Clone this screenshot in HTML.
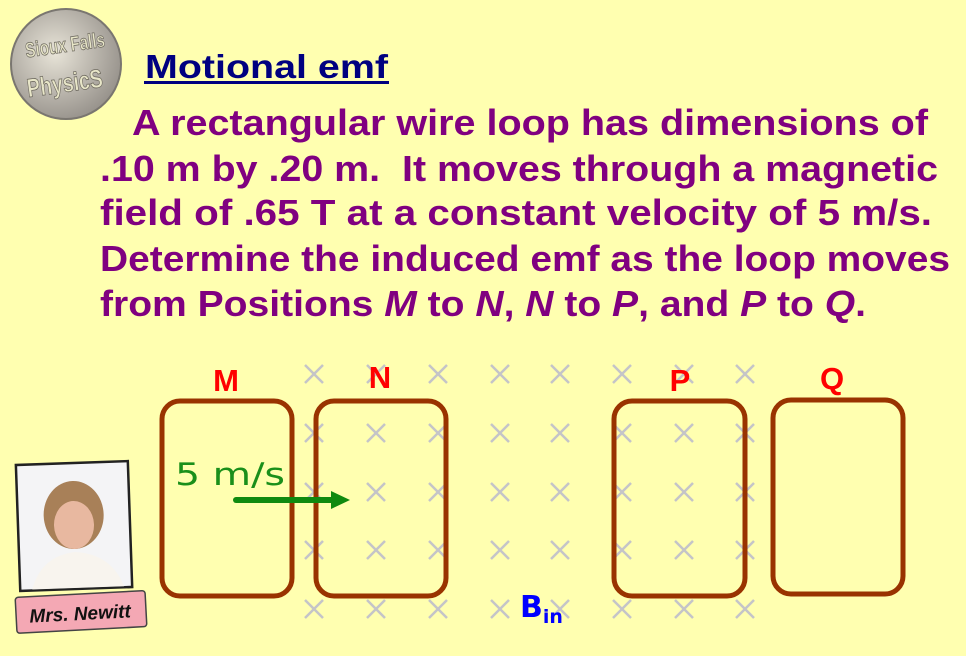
<!DOCTYPE html>
<html><head><meta charset="utf-8"><style>
html,body{margin:0;padding:0;background:#FFFFB0;}
svg{display:block}
</style></head><body>
<svg width="966" height="656" viewBox="0 0 966 656" xmlns="http://www.w3.org/2000/svg" xmlns:xlink="http://www.w3.org/1999/xlink">
<defs>
<radialGradient id="lg" cx="0.4" cy="0.4" r="0.7">
<stop offset="0" stop-color="#e8e4d8"/><stop offset="1" stop-color="#8f8a84"/>
</radialGradient>
<g id="x" stroke="#c4c4c8" stroke-width="2.5"><line x1="-9" y1="-9" x2="9" y2="9"/><line x1="9" y1="-9" x2="-9" y2="9"/></g>
<g id="col"><use xlink:href="#x" y="374"/><use xlink:href="#x" y="433"/><use xlink:href="#x" y="492"/><use xlink:href="#x" y="550"/><use xlink:href="#x" y="609"/></g>
</defs>
<rect width="966" height="656" fill="#FFFFB0"/>
<circle cx="66" cy="64" r="55" fill="url(#lg)" stroke="#7a7670" stroke-width="2"/>
<text x="66" y="52" font-family="Liberation Sans, sans-serif" font-weight="bold" font-size="21" fill="#e8e6c8" stroke="#6e6a60" stroke-width="0.8" text-anchor="middle" transform="rotate(-8 66 52)" textLength="80" lengthAdjust="spacingAndGlyphs">Sioux Falls</text>
<text x="66" y="92" font-family="Liberation Sans, sans-serif" font-weight="bold" font-size="26" fill="#e8e6c8" stroke="#6e6a60" stroke-width="0.8" text-anchor="middle" transform="rotate(-8 66 92)" textLength="76" lengthAdjust="spacingAndGlyphs">PhysicS</text>
<text x="145" y="78" font-family="Liberation Sans, sans-serif" font-weight="bold" font-size="33" fill="#000080" textLength="243" lengthAdjust="spacingAndGlyphs">Motional emf</text>
<rect x="144" y="81" width="245" height="3" fill="#000080"/>
<g font-family="Liberation Sans, sans-serif" font-weight="bold" font-size="36" fill="#800080">
<text x="132" y="135" textLength="796" lengthAdjust="spacingAndGlyphs">A rectangular wire loop has dimensions of</text>
<text x="100" y="181" textLength="838" lengthAdjust="spacingAndGlyphs" xml:space="preserve">.10 m by .20 m.  It moves through a magnetic</text>
<text x="100" y="225" textLength="832" lengthAdjust="spacingAndGlyphs">field of .65 T at a constant velocity of 5 m/s.</text>
<text x="100" y="271" textLength="850" lengthAdjust="spacingAndGlyphs">Determine the induced emf as the loop moves</text>
<text x="100" y="316" textLength="766" lengthAdjust="spacingAndGlyphs">from Positions <tspan font-style="italic">M</tspan> to <tspan font-style="italic">N</tspan>, <tspan font-style="italic">N</tspan> to <tspan font-style="italic">P</tspan>, and <tspan font-style="italic">P</tspan> to <tspan font-style="italic">Q</tspan>.</text>
</g>
<use xlink:href="#col" x="314"/><use xlink:href="#col" x="376"/><use xlink:href="#col" x="438"/><use xlink:href="#col" x="500"/><use xlink:href="#col" x="560"/><use xlink:href="#col" x="622"/><use xlink:href="#col" x="684"/><use xlink:href="#col" x="745"/>
<g fill="none" stroke="#993300" stroke-width="5">
<rect x="162" y="401" width="130" height="195" rx="18"/>
<rect x="316" y="401" width="130" height="195" rx="18"/>
<rect x="614" y="401" width="131" height="195" rx="18"/>
<rect x="773" y="400" width="130" height="194" rx="18"/>
</g>
<g font-family="Liberation Sans, sans-serif" font-weight="bold" font-size="31" fill="#ff0000" text-anchor="middle">
<text x="226" y="391">M</text>
<text x="380" y="388">N</text>
<text x="680" y="391">P</text>
<text x="832" y="389">Q</text>
</g>
<text x="175" y="485" font-family="DejaVu Sans, sans-serif" font-size="31" fill="#1a8f1a" textLength="110" lengthAdjust="spacingAndGlyphs">5 m/s</text>
<line x1="236" y1="500" x2="334" y2="500" stroke="#108a10" stroke-width="6" stroke-linecap="round"/>
<polygon points="331,491 350,500 331,509" fill="#108a10"/>
<text x="520" y="617" font-family="DejaVu Sans, sans-serif" font-weight="bold" font-size="30" fill="#0000ff">B<tspan font-size="19" dy="6">in</tspan></text>
<g transform="rotate(-2 74 525)">
<rect x="18" y="463" width="112" height="126" fill="#f4f4f6" stroke="#222" stroke-width="2.5"/>
<ellipse cx="74" cy="515" rx="30" ry="34" fill="#a88058"/>
<ellipse cx="74" cy="525" rx="20" ry="24" fill="#e8b8a0"/>
<path d="M30 588 Q40 555 74 552 Q110 555 122 588 Z" fill="#f8f4ee"/>
</g>
<g transform="rotate(-3 80 612)">
<rect x="16" y="594" width="130" height="36" rx="3" fill="#f4a8b4" stroke="#444" stroke-width="1.5"/>
<text x="80" y="620" font-family="Liberation Sans, sans-serif" font-weight="bold" font-style="italic" font-size="19" fill="#111" text-anchor="middle">Mrs. Newitt</text>
</g>
</svg>
</body></html>
